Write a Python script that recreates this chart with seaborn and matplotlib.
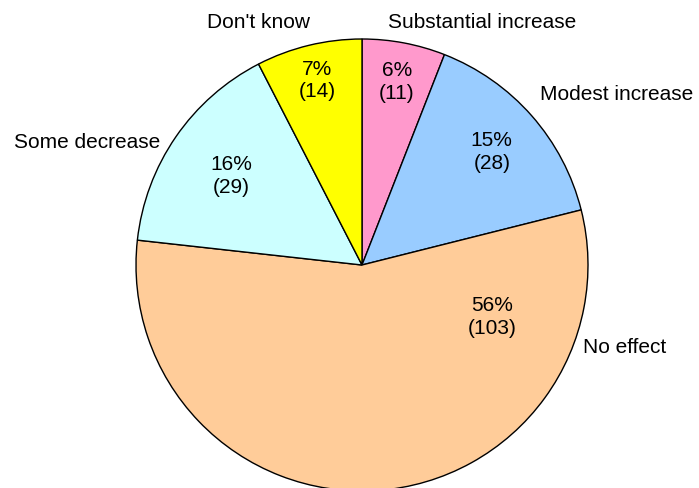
import numpy as np
import seaborn as sns
import matplotlib
matplotlib.use("Agg")
import matplotlib.pyplot as plt

# dati del grafico (senso orario partendo da ore 12)
categorie = ["Substantial increase", "Modest increase", "No effect", "Some decrease", "Don't know"]
conteggi = [11, 28, 103, 29, 14]
percentuali = ["6%", "15%", "56%", "16%", "7%"]
colori = ["#FF99CC", "#99CCFF", "#FFCC99", "#CCFFFF", "#FFFF00"]

sns.set_theme(style="white")
plt.rcParams['font.family'] = ['Liberation Sans', 'DejaVu Sans']

W, H = 699, 489
fig = plt.figure(figsize=(W / 100, H / 100), dpi=100)
ax = fig.add_axes([0, 0, 1, 1])

# centro e raggio in pixel
cx, cy, r = 362, 266, 226
fs = 15


def px(x, y):
    # da pixel dell'immagine a coordinate del grafico
    return (x - cx) / r, (cy - y) / r


wedges, _ = ax.pie(conteggi, colors=colori, startangle=90, counterclock=False,
                   wedgeprops=dict(edgecolor="black", linewidth=1.0))

# distanze delle etichette percentuali
dist_pct = [0.83, 0.765, 0.62, 0.70, 0.845]
for i, w in enumerate(wedges):
    ang = (w.theta1 + w.theta2) / 2
    if categorie[i] == "No effect":
        ang = -21.5
    a = np.deg2rad(ang)
    ax.text(dist_pct[i] * np.cos(a), dist_pct[i] * np.sin(a),
            f"{percentuali[i]}\n({conteggi[i]})", ha="center", va="center",
            fontsize=fs, color="black", linespacing=1.25)

# etichette esterne (ancoraggio in pixel come nell'originale)
pos_etichette = [(388, 22, "left"), (540, 95, "left"), (583, 348, "left"),
                 (160, 142, "right"), (310, 22, "right")]
for nome, (x, y, ha) in zip(categorie, pos_etichette):
    ax.text(*px(x, y), nome, ha=ha, va="center", fontsize=fs, color="black")

ax.set_xlim(-cx / r, (W - cx) / r)
ax.set_ylim(-(H - cy) / r, cy / r)
ax.set_aspect("auto")
ax.axis("off")

fig.savefig("out.png", dpi=100, facecolor="white")
